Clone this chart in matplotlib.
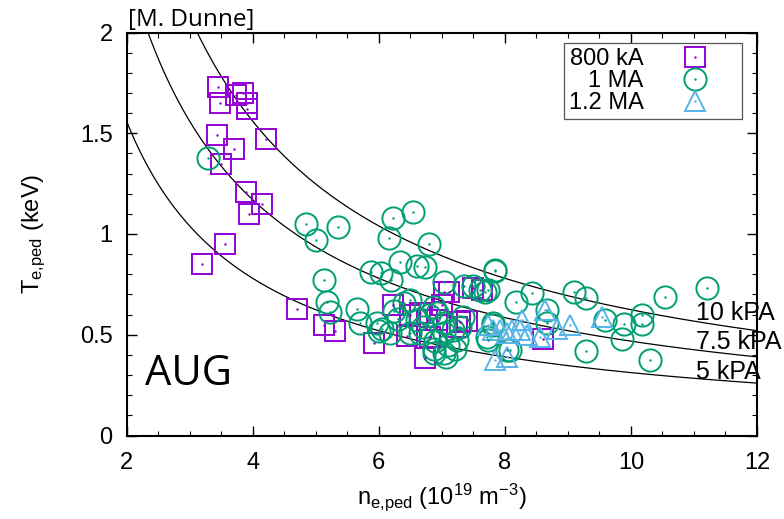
import numpy as np
import matplotlib
matplotlib.use('Agg')
import matplotlib.pyplot as plt
from matplotlib.ticker import MultipleLocator
from matplotlib.legend_handler import HandlerTuple

plt.rcParams['font.family'] = ['Liberation Sans', 'DejaVu Sans']
plt.rcParams['mathtext.default'] = 'regular'

# 800 kA (squares)
n_800 = [3.45, 3.49, 3.73, 3.85, 3.91, 3.91, 3.44, 3.70, 4.21, 3.50, 3.90, 4.15, 3.94,
         3.57, 3.20, 4.70, 5.14, 5.31, 5.93, 6.23, 6.45, 6.74, 7.11, 7.50, 7.03, 6.66,
         6.92, 7.24, 6.82, 7.40, 7.29, 6.76, 8.61, 7.64, 6.50, 7.00]
T_800 = [1.73, 1.65, 1.69, 1.70, 1.65, 1.62, 1.49, 1.42, 1.47, 1.345, 1.21, 1.15, 1.10,
         0.95, 0.85, 0.63, 0.55, 0.52, 0.46, 0.65, 0.495, 0.385, 0.71, 0.73, 0.71, 0.61,
         0.575, 0.54, 0.49, 0.57, 0.565, 0.575, 0.48, 0.72, 0.60, 0.65]

# 1 MA (circles)
n_1MA = [3.29, 4.84, 5.01, 5.35, 6.23, 6.54, 6.16, 6.79, 6.33, 5.87, 6.03, 6.19, 6.61,
         6.74, 5.14, 5.18, 5.22, 5.66, 5.70, 5.97, 6.05, 6.18, 6.24, 6.40, 7.03, 7.35,
         6.61, 6.71, 6.92, 7.03, 6.87, 7.06, 7.21, 7.29, 6.50, 7.84, 7.50, 7.61, 7.74,
         8.17, 8.43, 8.67, 8.09, 7.72, 7.82, 6.50, 6.87, 7.03, 7.18, 7.24, 7.03, 6.87,
         6.66, 7.34, 7.85, 7.69, 9.09, 9.29, 10.54, 9.89, 10.17, 10.17, 9.86, 9.29,
         10.30, 9.59, 7.82, 7.74, 8.03, 8.67, 11.20, 6.00, 6.90, 6.30, 6.80, 7.10]
T_1MA = [1.375, 1.05, 0.97, 1.035, 1.08, 1.11, 0.98, 0.95, 0.86, 0.81, 0.805, 0.77, 0.84,
         0.835, 0.77, 0.665, 0.615, 0.63, 0.56, 0.56, 0.53, 0.51, 0.62, 0.66, 0.76, 0.74,
         0.575, 0.54, 0.61, 0.51, 0.43, 0.39, 0.43, 0.54, 0.51, 0.815, 0.74, 0.72, 0.72,
         0.665, 0.705, 0.625, 0.425, 0.49, 0.55, 0.67, 0.64, 0.56, 0.525, 0.475, 0.41,
         0.41, 0.51, 0.59, 0.82, 0.71, 0.71, 0.68, 0.687, 0.555, 0.60, 0.555, 0.48, 0.42,
         0.375, 0.575, 0.56, 0.475, 0.425, 0.56, 0.73, 0.52, 0.47, 0.58, 0.60, 0.45]

# 1.2 MA (triangles)
n_12MA = [8.64, 9.54, 9.04, 8.83, 8.56, 8.24, 8.11, 8.03, 7.93, 7.82, 7.85, 8.03, 8.35,
          7.74, 8.27]
T_12MA = [0.625, 0.59, 0.55, 0.53, 0.49, 0.525, 0.525, 0.51, 0.525, 0.525, 0.376, 0.39,
          0.50, 0.55, 0.575]

isobars_kPa = [10, 7.5, 5]
isobar_labels = ['10 kPA', '7.5 kPA', '5 kPA']
isobar_label_T = [0.61, 0.465, 0.317]

c800 = '#9400D3'
c1 = '#009E73'
c12 = '#56B4E9'

fig = plt.figure(figsize=(7.84, 5.19), dpi=100)
ax = fig.add_axes([126.5 / 784, 1 - 435.5 / 519, 630.5 / 784, 403 / 519])

# isobars: p = 1.602 * n * T
n_line = np.linspace(2, 12, 400)
for p in isobars_kPa:
    ax.plot(n_line, p / (1.602 * n_line), color='black', lw=0.9, zorder=1)

ms = dict(mfc='none', ls='none', mew=1.4)
h1, = ax.plot(n_800, T_800, marker='s', ms=14, mec=c800, **ms)
h2, = ax.plot(n_1MA, T_1MA, marker='o', ms=16, mec=c1, **ms)
h3, = ax.plot(n_12MA, T_12MA, marker='^', ms=15, mec=c12, **ms)
d1, = ax.plot(n_800, T_800, marker='.', ms=1.5, color=c800, ls='none')
d2, = ax.plot(n_1MA, T_1MA, marker='.', ms=1.5, color=c1, ls='none')
d3, = ax.plot(n_12MA, T_12MA, marker='.', ms=1.5, color=c12, ls='none')

for lab, t in zip(isobar_labels, isobar_label_T):
    ax.text(11.03, t, lab, fontsize=18, va='center', ha='left', clip_on=False)

ax.text(2.3, 0.25, 'AUG', fontsize=30, family='Open Sans', va='baseline')
ax.text(0.002, 1.0, '[M. Dunne]', fontsize=17.5, family='Open Sans', va='bottom',
        transform=ax.transAxes)

ax.set_xlim(2, 12)
ax.set_ylim(0, 2)
ax.xaxis.set_major_locator(MultipleLocator(2))
ax.xaxis.set_minor_locator(MultipleLocator(0.5))
ax.yaxis.set_minor_locator(MultipleLocator(0.1))
ax.set_yticks([0, 0.5, 1, 1.5, 2])
ax.set_yticklabels(['0', '0.5', '1', '1.5', '2'])
ax.tick_params(which='both', direction='in', top=True, right=True, labelsize=17)
ax.tick_params(which='major', length=7, width=1)
ax.tick_params(which='minor', length=3.5, width=0.8)
ax.tick_params(axis='x', pad=12)
ax.tick_params(axis='y', pad=10)
for s in ax.spines.values():
    s.set_linewidth(1.5)

ax.set_xlabel(r'n$_{e{,}ped}$ (10$^{19}$ m$^{-3}$)', fontsize=17)
ax.set_ylabel(r'T$_{e{,}ped}$ (keV)', fontsize=17)
ax.xaxis.set_label_coords(0.5, -0.115)
ax.yaxis.set_label_coords(-0.125, 0.5)

leg = ax.legend([(h1, d1), (h2, d2), (h3, d3)], ['800 kA', '1 MA', '1.2 MA'],
                handler_map={tuple: HandlerTuple(ndivide=1)},
                loc='upper right', bbox_to_anchor=(0.976, 0.973), borderaxespad=0,
                markerfirst=False, fontsize=17, labelspacing=0.0, handlelength=3.6,
                handletextpad=0.36, borderpad=0.2, fancybox=False, framealpha=1,
                edgecolor='#555555')
leg.get_frame().set_linewidth(0.9)

fig.savefig('out.png', dpi=100)
